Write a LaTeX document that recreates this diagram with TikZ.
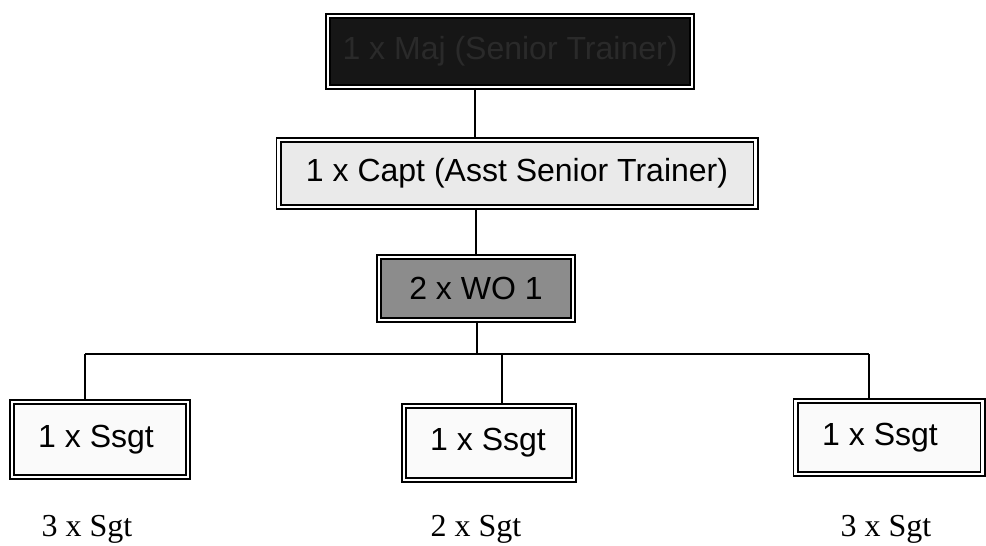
\documentclass[tikz,border=0pt]{standalone}
\usepackage{fontspec}
\setmainfont{Liberation Serif}
\newfontfamily\boxfont{Liberation Sans}
\definecolor{majfill}{RGB}{22,22,22}
\definecolor{majtext}{RGB}{42,42,42}
\definecolor{captfill}{RGB}{234,234,234}
\definecolor{wofill}{RGB}{140,140,140}
\definecolor{ssgtfill}{RGB}{250,250,250}
\begin{document}
\begin{tikzpicture}[x=1pt,y=-1pt,
  rankbox/.style={draw=black, line width=1.8pt, double=white, double distance=2.4pt,
    inner sep=0pt, font=\boxfont\fontsize{32}{36}\selectfont},
  ssgttext/.style={font=\boxfont\fontsize{32}{36}\selectfont, anchor=west, inner sep=0pt},
  sgtlabel/.style={font=\fontsize{32}{36}\selectfont, anchor=base},
  conn/.style={draw=black, line width=1.2pt}]
\useasboundingbox (0,0) rectangle (986,546);
% boxes
\node[rankbox, fill=majfill, text=majtext, minimum width=364pt, minimum height=71pt] (maj) at (510,51.5) {1 x Maj (Senior Trainer)};
\node[rankbox, fill=captfill, minimum width=477pt, minimum height=67pt] (capt) at (517,173.5) {1 x Capt (Asst Senior Trainer)};
\node[rankbox, fill=wofill, minimum width=194pt, minimum height=63pt] (wo) at (476,288.5) {2 x WO 1};
\node[rankbox, fill=ssgtfill, minimum width=176pt, minimum height=75pt] (sL) at (100,439.5) {};
\node[rankbox, fill=ssgtfill, minimum width=170pt, minimum height=74pt] (sM) at (489,443) {};
\node[rankbox, fill=ssgtfill, minimum width=187pt, minimum height=73pt] (sR) at (889,437.5) {};
\node[ssgttext] (tL) at (38,439.5) {1 x Ssgt};
\node[ssgttext] (tM) at (430,443) {1 x Ssgt};
\node[ssgttext] (tR) at (822,437.5) {1 x Ssgt};
% sergeant labels
\node[sgtlabel] (gL) at (87,536) {3 x Sgt};
\node[sgtlabel] (gM) at (476,536) {2 x Sgt};
\node[sgtlabel] (gR) at (886,536) {3 x Sgt};
% connectors
\coordinate (ax) at (475,0);
\coordinate (bx) at (476,0);
\coordinate (busC) at (477,354);
\coordinate (busL) at (85,354);
\coordinate (busM) at (502,354);
\coordinate (busR) at (869,354);
\draw[conn] (ax |- maj.south) -- (ax |- capt.north);
\draw[conn] (bx |- capt.south) -- (bx |- wo.north);
\draw[conn] (busC |- wo.south) -- (busC);
\draw[conn] (busL) -- (busR);
\draw[conn] (busL) -- (busL |- sL.north);
\draw[conn] (busM) -- (busM |- sM.north);
\draw[conn] (busR) -- (busR |- sR.north);
\end{tikzpicture}
\end{document}
